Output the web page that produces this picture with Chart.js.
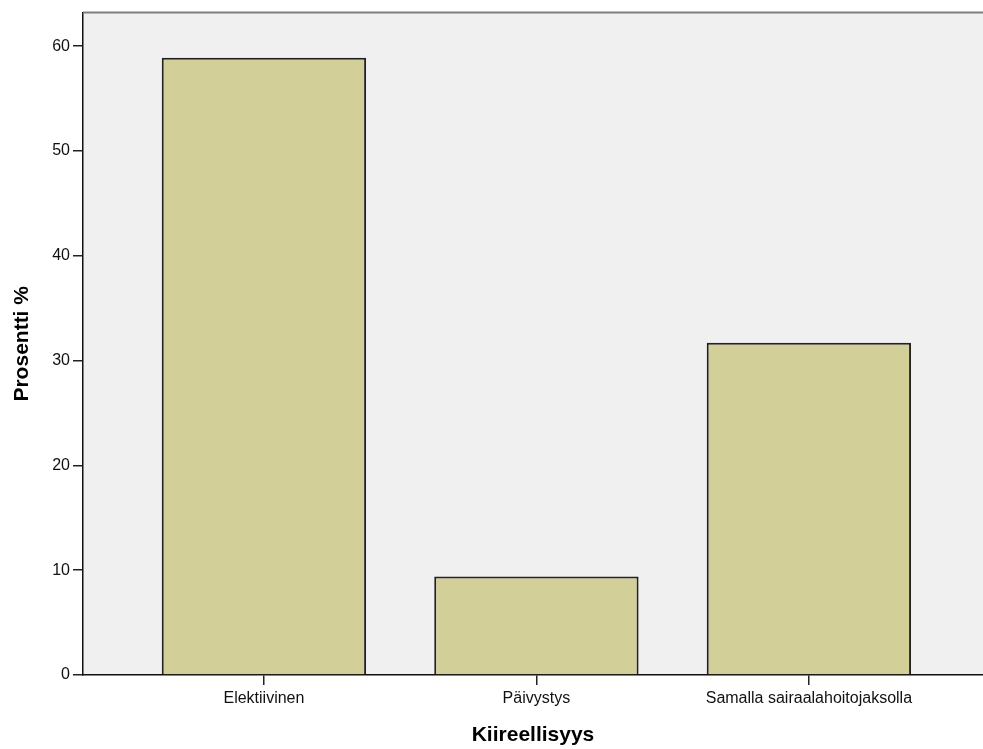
<!DOCTYPE html>
<html>
<head>
<meta charset="utf-8">
<script src="https://cdn.jsdelivr.net/npm/chart.js@4.4.1/dist/chart.umd.min.js"></script>
<style>
    html, body { margin: 0; padding: 0; background: #fff; }
    #wrap { width: 983px; height: 749px; }
</style>
</head>
<body>
<div id="wrap"><canvas id="kiireChart" width="983" height="749"></canvas></div>
<script>
const categories = ["Elektiivinen", "Päivystys", "Samalla sairaalahoitojaksolla"];
const percentValues = [58.9, 9.4, 31.7];
const yTicks = [0, 10, 20, 30, 40, 50, 60];

// grey plot background + grey top frame line
const plotFrame = {
    id: "plotFrame",
    beforeDraw(chart) {
        const { ctx, chartArea: a } = chart;
        ctx.save();
        ctx.fillStyle = "#f0f0f0";
        ctx.fillRect(a.left, a.top, a.right - a.left, a.bottom - a.top);
        ctx.restore();
    },
    afterDraw(chart) {
        const { ctx, chartArea: a } = chart;
        ctx.save();
        ctx.strokeStyle = "#7f7f7f";
        ctx.lineWidth = 2;
        ctx.beginPath();
        ctx.moveTo(a.left, a.top);
        ctx.lineTo(a.right, a.top);
        ctx.stroke();
        ctx.restore();
    }
};

const ctx = document.getElementById("kiireChart");
new Chart(ctx, {
    type: "bar",
    data: {
        datasets: [{
            label: "Prosentti %",
            data: percentValues.map((v, i) => ({ x: i, y: v })),
            backgroundColor: "#d3cf98",
            borderColor: "#222",
            borderWidth: 2,
            barPercentage: 0.75,
            categoryPercentage: 1
        }]
    },
    options: {
        responsive: false,
        animation: false,
        layout: { padding: { top: 11, right: 0, bottom: 0, left: 0 } },
        plugins: {
            legend: { display: false },
            tooltip: { enabled: false }
        },
        scales: {
            x: {
                type: "linear",
                offset: false,
                min: -0.664,
                max: 2.639,
                afterBuildTicks: scale => {
                    scale.ticks = categories.map((c, i) => ({ value: i }));
                },
                afterFit: scale => { scale.height = 74; },
                ticks: {
                    callback: v => categories[v],
                    color: "#111",
                    font: { family: "Liberation Sans", size: 16 },
                    padding: 4,
                    maxRotation: 0
                },
                grid: {
                    offset: false,
                    drawOnChartArea: false,
                    drawTicks: true,
                    tickLength: 10,
                    color: "#222",
                    lineWidth: 1.5
                },
                border: { display: true, color: "#111", width: 1.5 },
                title: {
                    display: true,
                    text: "Kiireellisyys",
                    color: "#000",
                    font: { family: "Liberation Sans", size: 21, weight: "bold" },
                    padding: { top: 0, bottom: 1 }
                }
            },
            y: {
                min: 0,
                max: 63.2,
                afterBuildTicks: scale => {
                    scale.ticks = yTicks.map(v => ({ value: v }));
                },
                afterFit: scale => { scale.width = 83; },
                ticks: {
                    color: "#111",
                    font: { family: "Liberation Sans", size: 16 },
                    padding: 3
                },
                grid: {
                    drawOnChartArea: false,
                    drawTicks: true,
                    tickLength: 10,
                    color: "#222",
                    lineWidth: 1.5
                },
                border: { display: true, color: "#111", width: 1.5 },
                title: {
                    display: true,
                    text: "Prosentti %",
                    color: "#000",
                    font: { family: "Liberation Sans", size: 21, weight: "bold" },
                    padding: { top: 10, bottom: 0 }
                }
            }
        }
    },
    plugins: [plotFrame]
});
</script>
</body>
</html>
